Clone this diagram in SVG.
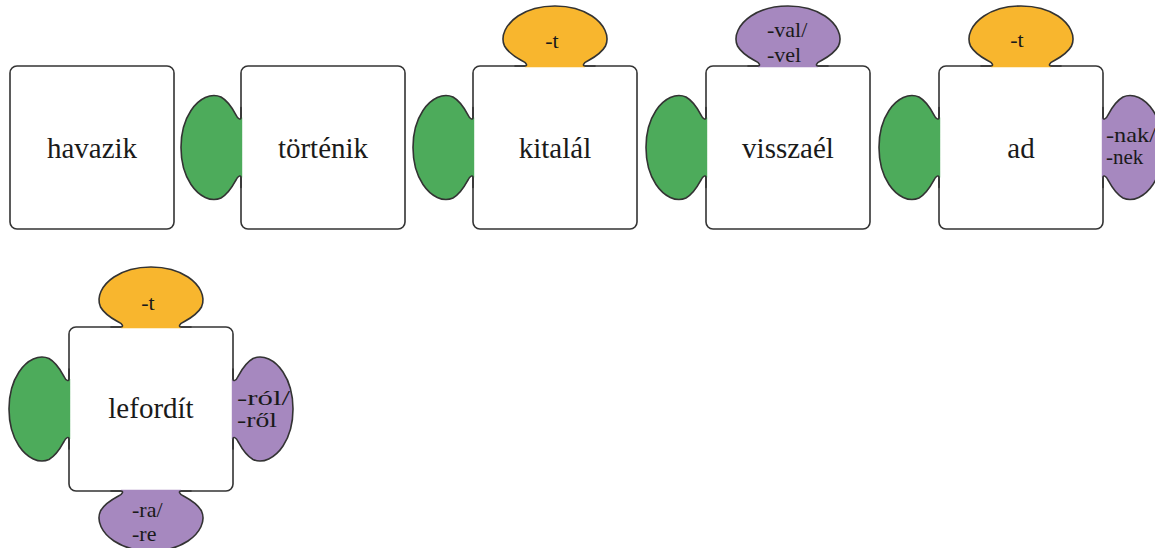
<svg xmlns="http://www.w3.org/2000/svg" width="1155" height="548" viewBox="0 0 1155 548">
  <style>
    .box{fill:#fff;stroke:#333;stroke-width:1.6}
    .tab-line{fill:none;stroke:#333;stroke-width:1.6;stroke-linejoin:round;stroke-linecap:round}
    .green{fill:#4DAB5B}
    .orange{fill:#F8B62E}
    .purple{fill:#A688BF}
    text{fill:#1a1a1a}
    .word{font-size:29px;text-anchor:middle}
    .suffix{font-size:22px}
    .side{font-size:21px}
    .mid{text-anchor:middle}
  </style>
  <defs>
    <!-- puzzle tab attached to a box edge at x=0, bulging toward -x -->
    <path id="tab-fill" d="M1.2,-30 L0,-30 C0,-27.5 -3,-28 -5,-32.5 C-8,-38 -12,-46 -20,-50.5 C-30,-55 -42,-49 -50,-37 C-58,-25 -60,-12 -60,0 C-60,12 -58,25 -50,37 C-42,49 -30,55 -20,50.5 C-12,46 -8,38 -5,32.5 C-3,28 0,27.5 0,30 L1.2,30 Z"/>
    <path id="tab-edge" d="M0,-40 L0,-30 C0,-27.5 -3,-28 -5,-32.5 C-8,-38 -12,-46 -20,-50.5 C-30,-55 -42,-49 -50,-37 C-58,-25 -60,-12 -60,0 C-60,12 -58,25 -50,37 C-42,49 -30,55 -20,50.5 C-12,46 -8,38 -5,32.5 C-3,28 0,27.5 0,30 L0,40"/>
  </defs>

  <g font-family="'Liberation Serif', 'DejaVu Serif', serif">
  <g id="havazik">
    <rect class="box" x="10" y="66" width="164" height="163" rx="7"/>
    <text class="word" x="92" y="157.5">havazik</text>
  </g>

  <g id="tortenik">
    <rect class="box" x="241" y="66" width="164" height="163" rx="7"/>
    <use href="#tab-fill" class="green" transform="translate(241,147.5)"/>
    <use href="#tab-edge" class="tab-line" transform="translate(241,147.5)"/>
    <text class="word" x="323" y="157.5">történik</text>
  </g>

  <g id="kitalal">
    <rect class="box" x="473" y="66" width="164" height="163" rx="7"/>
    <use href="#tab-fill" class="green" transform="translate(473,147.5)"/>
    <use href="#tab-edge" class="tab-line" transform="translate(473,147.5)"/>
    <use href="#tab-fill" class="orange" transform="translate(555,66) rotate(90)"/>
    <use href="#tab-edge" class="tab-line" transform="translate(555,66) rotate(90)"/>
    <text class="word" x="555" y="157.5">kitalál</text>
    <text class="suffix mid" x="552" y="48">-t</text>
  </g>

  <g id="visszael">
    <rect class="box" x="706" y="66" width="164" height="163" rx="7"/>
    <use href="#tab-fill" class="green" transform="translate(706,147.5)"/>
    <use href="#tab-edge" class="tab-line" transform="translate(706,147.5)"/>
    <use href="#tab-fill" class="purple" transform="translate(788,66) rotate(90)"/>
    <use href="#tab-edge" class="tab-line" transform="translate(788,66) rotate(90)"/>
    <text class="word" x="788" y="157.5">visszaél</text>
    <text class="suffix" x="767" y="37">-val/</text>
    <text class="suffix" x="767" y="62">-vel</text>
  </g>

  <g id="ad">
    <rect class="box" x="939" y="66" width="164" height="163" rx="7"/>
    <use href="#tab-fill" class="green" transform="translate(939,147.5)"/>
    <use href="#tab-edge" class="tab-line" transform="translate(939,147.5)"/>
    <use href="#tab-fill" class="orange" transform="translate(1021,66) rotate(90)"/>
    <use href="#tab-edge" class="tab-line" transform="translate(1021,66) rotate(90)"/>
    <use href="#tab-fill" class="purple" transform="translate(1103,147.5) rotate(180)"/>
    <use href="#tab-edge" class="tab-line" transform="translate(1103,147.5) rotate(180)"/>
    <text class="word" x="1021" y="157.5">ad</text>
    <text class="suffix mid" x="1017" y="47">-t</text>
    <text class="suffix side" x="1106" y="142" textLength="50" lengthAdjust="spacingAndGlyphs">-nak/</text>
    <text class="suffix side" x="1106" y="164">-nek</text>
  </g>

  <g id="lefordit">
    <rect class="box" x="69" y="327" width="164" height="164" rx="7"/>
    <use href="#tab-fill" class="green" transform="translate(69,409)"/>
    <use href="#tab-edge" class="tab-line" transform="translate(69,409)"/>
    <use href="#tab-fill" class="orange" transform="translate(151,327) rotate(90)"/>
    <use href="#tab-edge" class="tab-line" transform="translate(151,327) rotate(90)"/>
    <use href="#tab-fill" class="purple" transform="translate(233,409) rotate(180)"/>
    <use href="#tab-edge" class="tab-line" transform="translate(233,409) rotate(180)"/>
    <use href="#tab-fill" class="purple" transform="translate(151,491) rotate(-90)"/>
    <use href="#tab-edge" class="tab-line" transform="translate(151,491) rotate(-90)"/>
    <text class="word" x="151" y="418">lefordít</text>
    <text class="suffix mid" x="148" y="310">-t</text>
    <text class="suffix side" x="237" y="405" textLength="53" lengthAdjust="spacingAndGlyphs">-ról/</text>
    <text class="suffix side" x="237" y="427" textLength="40" lengthAdjust="spacingAndGlyphs">-ről</text>
    <text class="suffix" x="132" y="517">-ra/</text>
    <text class="suffix" x="132" y="541">-re</text>
  </g>
  </g>
</svg>
